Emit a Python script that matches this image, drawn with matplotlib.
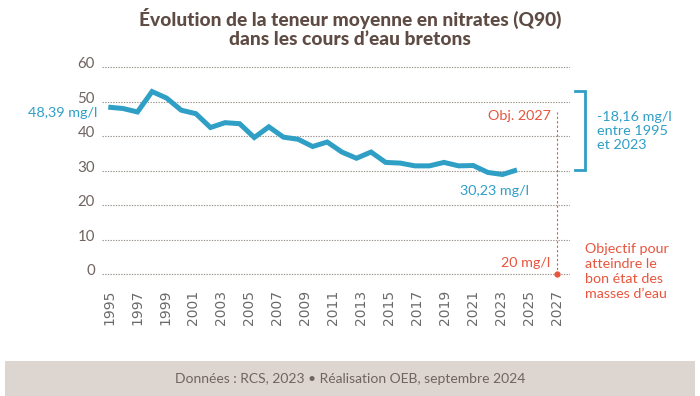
import matplotlib.pyplot as plt
from matplotlib.patches import Rectangle
from matplotlib.transforms import ScaledTranslation

# data
years = list(range(1995, 2024))
nitrates = [48.39, 48.0, 47.0, 52.9, 51.0, 47.5, 46.5, 42.5, 43.9, 43.6,
            39.6, 42.7, 39.7, 39.1, 37.0, 38.3, 35.4, 33.6, 35.4, 32.4,
            32.2, 31.4, 31.4, 32.4, 31.4, 31.5, 29.5, 28.9, 30.23]
tick_years = list(range(1995, 2028, 2))
y_ticks = [0, 10, 20, 30, 40, 50, 60]
objective_year = 2027
objective_value = 0
start_label = "48,39 mg/l"
end_label = "30,23 mg/l"

BLUE = '#2f9fc6'
RED = '#e8553d'
BROWN = '#5e4b43'
GREY = '#6f6460'

W, H = 700, 396
fig = plt.figure(figsize=(W / 100, H / 100), dpi=100)


def fx(px):
    return px / W


def fy(py):
    return 1 - py / H


# axes box: 60 at y=67px, 0 at y=274.4px, grid from x=102 to 570
ax = fig.add_axes([fx(102), fy(276.1), fx(570) - fx(102), fy(65.3) - fy(276.1)])
ax.set_ylim(-0.5, 60.5)
ax.set_xlim(1994.5, 2027.93)
for s in ax.spines.values():
    s.set_visible(False)
ax.set_yticks(y_ticks)
ax.set_xticks(tick_years)
ax.tick_params(axis='both', length=0)
ax.tick_params(axis='y', pad=5, labelsize=10.8, labelcolor=GREY)
ax.tick_params(axis='x', pad=10, labelsize=10, labelcolor='#6a6a6a', rotation=90)
for lab in ax.get_yticklabels():
    lab.set_fontfamily('Lato')
    lab.set_transform(lab.get_transform() + ScaledTranslation(0, 4.5 / 100, fig.dpi_scale_trans))
ax.grid(axis='y', color='#9c928d', linestyle=(0, (1.2, 1.2)), linewidth=0.8)
ax.grid(axis='x', visible=False)

# objective line and dot
ax.plot([objective_year, objective_year], [objective_value, 46.9], color=RED,
        linestyle=(0, (2, 2)), linewidth=0.8)
ax.plot([objective_year], [objective_value], 'o', color=RED, markersize=3.5, clip_on=False)
ax.annotate("Obj. 2027", xy=(objective_year, 45.8), xytext=(-6, 0), textcoords='offset pixels',
            ha='right', va='center', color=RED, fontsize=10.4, family='Lato')
ax.annotate("20 mg/l", xy=(objective_year, 3.4), xytext=(-7, 0), textcoords='offset pixels',
            ha='right', va='center', color=RED, fontsize=10.4, family='Lato')

# bracket
ax.plot([2028.3, 2029.0, 2029.0, 2028.3], [53.0, 53.0, nitrates[-1], nitrates[-1]],
        color=BLUE, linewidth=2, clip_on=False, solid_joinstyle='miter')

# data line on its own x scale
ax2 = ax.twiny()
ax2.set_xlim(1994.57, 2026.63)
ax2.set_ylim(-0.5, 60.5)
ax2.axis('off')
ax2.plot(years, nitrates, color=BLUE, linewidth=3.6, solid_joinstyle='miter',
         solid_capstyle='butt')
ax2.annotate(start_label, xy=(years[0], nitrates[0]), xytext=(-11, -6), textcoords='offset pixels',
             ha='right', va='center', color=BLUE, fontsize=10.4, family='Lato',
             annotation_clip=False)
ax2.annotate(end_label, xy=(years[-1], nitrates[-1]), xytext=(-23, -21), textcoords='offset pixels',
             ha='center', va='center', color=BLUE, fontsize=10.4, family='Lato')

# side texts
fig.text(fx(596.7), fy(130.7), "-18,16 mg/l\nentre 1995\net 2023", ha='left', va='center',
         color=BLUE, fontsize=10.4, family='Lato', linespacing=1.2)
fig.text(fx(585), fy(271.5), "Objectif pour\natteindre le\nbon état des\nmasses d\u2019eau",
         ha='left', va='center', color=RED, fontsize=10.3, family='Lato', linespacing=1.28)

# title
fig.text(0.5, fy(28), "Évolution de la teneur moyenne en nitrates (Q90)\ndans les cours d\u2019eau bretons",
         ha='center', va='center', color=BROWN, fontsize=13.8, family='Lato', weight='black',
         linespacing=1.1)

# footer band
fig.patches.append(Rectangle((fx(5), 0), fx(690), fy(361), transform=fig.transFigure,
                             facecolor='#ddd5d0', edgecolor='none', zorder=0))
fig.text(0.5, fy(379), "Données : RCS, 2023 \u2022 Réalisation OEB, septembre 2024",
         ha='center', va='center', color=GREY, fontsize=10, family='Lato')

fig.savefig('out.png', dpi=100)
